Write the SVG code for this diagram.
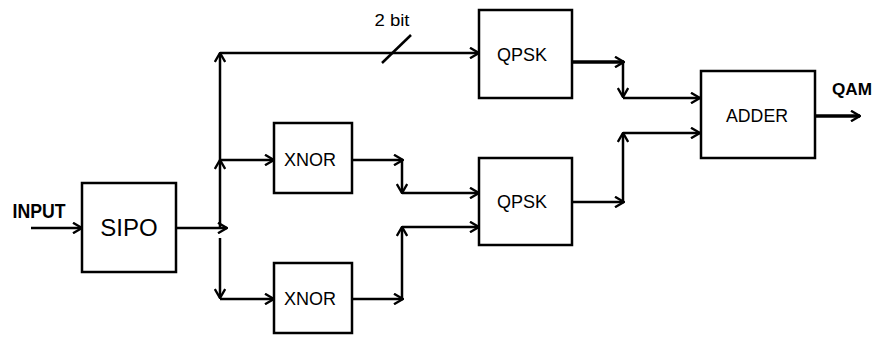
<svg xmlns="http://www.w3.org/2000/svg" width="872" height="338" viewBox="0 0 872 338">
<style>
.box{fill:#fff;stroke:#000;stroke-width:2.5}
.lbl{font-family:"Liberation Sans",Arial,sans-serif;fill:#000;text-anchor:middle}
.c{fill:none;stroke:#000;stroke-width:2.5;marker-end:url(#ah)}
.t{stroke-width:3.5}
</style>
<defs>
<marker id="ah" viewBox="0 0 11 12" refX="10" refY="6" markerWidth="11" markerHeight="12" markerUnits="userSpaceOnUse" orient="auto">
<path d="M1,0.8 L10,6 L1,11.2" fill="none" stroke="#000" stroke-width="2.4"/>
</marker>
</defs>
<rect width="872" height="338" fill="#fff"/>
<g id="connectors">
<path class="c" d="M31,228 H82"/>
<path class="c" d="M176,228 H227"/>
<path class="c" d="M220,228 V160"/>
<path class="c" d="M220,160 V53"/>
<path class="c" d="M220,53 H479"/>
<path class="c" d="M220,160 H274"/>
<path class="c" d="M220,238 V298"/>
<path class="c" d="M220,299 H274"/>
<path class="c" d="M352,160 H403"/>
<path class="c" d="M402,160 V193"/>
<path class="c" d="M402,193 H479"/>
<path class="c" d="M352,299 H403"/>
<path class="c" d="M402,299 V227"/>
<path class="c" d="M402,227 H479"/>
<path class="c t" d="M572,62 H624"/>
<path class="c" d="M623,62 V97"/>
<path class="c" d="M623,98 H700"/>
<path class="c" d="M572,202 H624"/>
<path class="c" d="M623,202 V133"/>
<path class="c" d="M623,133 H700"/>
<path class="c t" d="M808,116 H860"/>
<path d="M382,63 L411,35" stroke="#000" stroke-width="2.5" fill="none"/>
</g>
<text class="lbl" x="39" y="218" font-size="20" textLength="53" lengthAdjust="spacingAndGlyphs" font-weight="bold">INPUT</text>
<text class="lbl" x="392" y="26" font-size="16" textLength="35" lengthAdjust="spacingAndGlyphs">2 bit</text>
<text class="lbl" x="852" y="95" font-size="17" font-weight="bold" textLength="40" lengthAdjust="spacingAndGlyphs">QAM</text>
<g id="sipo"><rect class="box" x="82" y="183" width="94" height="89"/><text class="lbl" x="129" y="236" font-size="24">SIPO</text></g>
<g id="xnor1"><rect class="box" x="274" y="123" width="78" height="70"/><text class="lbl" x="310" y="166" font-size="18">XNOR</text></g>
<g id="xnor2"><rect class="box" x="274" y="263" width="78" height="70"/><text class="lbl" x="310" y="305" font-size="18">XNOR</text></g>
<g id="qpsk1"><rect class="box" x="479" y="10" width="93" height="88"/><text class="lbl" x="522" y="61" font-size="18">QPSK</text></g>
<g id="qpsk2"><rect class="box" x="479" y="158" width="93" height="87"/><text class="lbl" x="522" y="208" font-size="18">QPSK</text></g>
<g id="adder"><rect class="box" x="701" y="71" width="114" height="87"/><text class="lbl" x="757" y="122" font-size="19" textLength="62" lengthAdjust="spacingAndGlyphs">ADDER</text></g>
</svg>
